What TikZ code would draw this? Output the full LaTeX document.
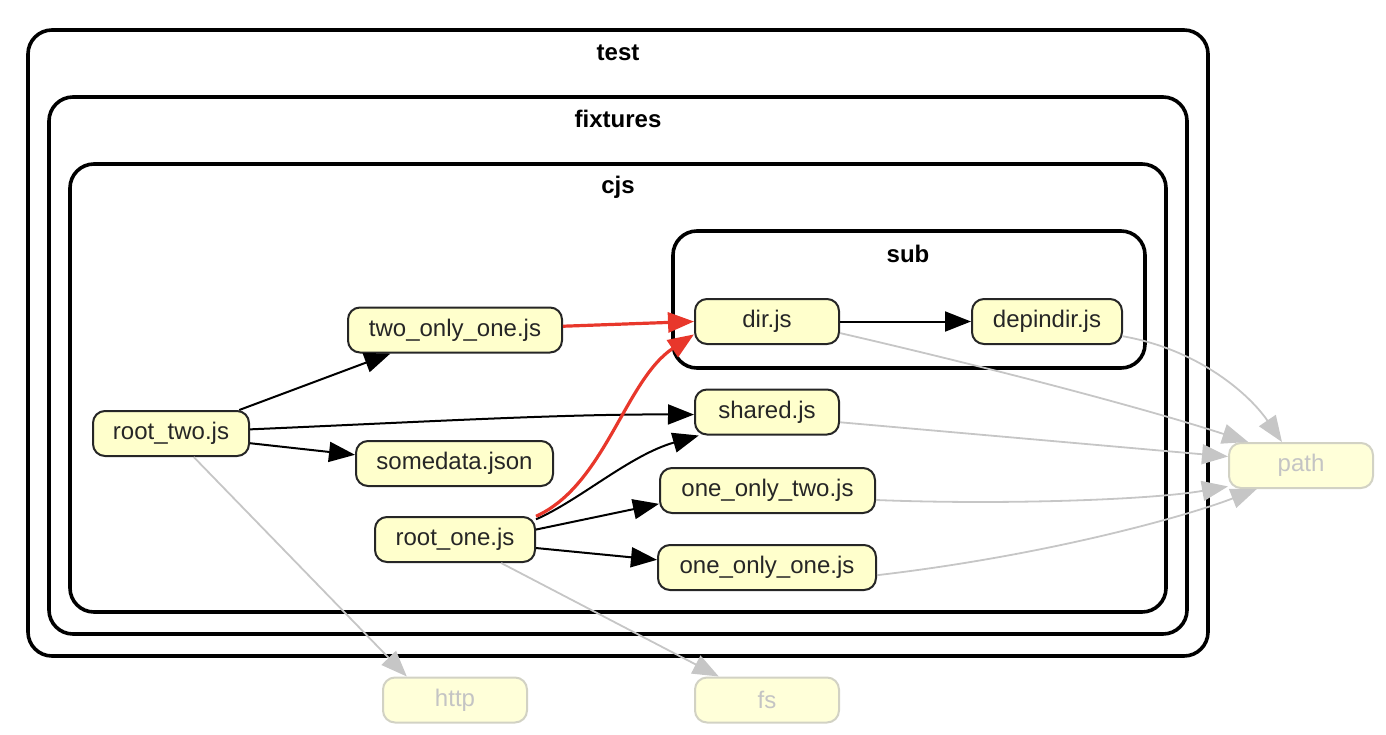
\documentclass[tikz,border=0pt]{standalone}
\usepackage{fontspec}
\setmainfont{Liberation Sans}
\usetikzlibrary{arrows.meta}
\definecolor{modfill}{HTML}{FFFFCC}
\definecolor{extfill}{HTML}{FFFFD9}
\definecolor{extline}{HTML}{D2D2C4}
\definecolor{exttext}{HTML}{C4C4C4}
\definecolor{hotred}{HTML}{E8372B}
\definecolor{fadeline}{HTML}{C6C6C6}
\tikzset{
  mod/.style={draw=black!85, line width=1pt, fill=modfill, rounded corners=6pt,
    minimum height=22.5pt, inner sep=0pt, text=black!85,
    font=\fontsize{12}{14}\selectfont},
  ext/.style={mod, draw=extline, fill=extfill, text=exttext},
  cluster/.style={draw=black, line width=1.8pt, rounded corners=12pt},
  clabel/.style={font=\bfseries\fontsize{12}{14}\selectfont, inner sep=0pt},
  dep/.style={-{Triangle[length=13pt,width=10pt]}, line width=1pt, draw=black},
  hot/.style={dep, draw=hotred, line width=1.6pt},
  faint/.style={dep, draw=fadeline, line width=0.9pt},
}
\begin{document}
\begin{tikzpicture}[x=0.5pt,y=-0.5pt]
\useasboundingbox (0,0) rectangle (1386,734);
% folder clusters
\draw[cluster] (28,30) rectangle (1208,656);
\draw[cluster] (49,97) rectangle (1187,634);
\draw[cluster] (70,164) rectangle (1166,612);
\draw[cluster] (673,231) rectangle (1145,368);
\node[clabel] (ltest) at (618,53) {test};
\node[clabel] (lfix) at (618,119) {fixtures};
\node[clabel] (lcjs) at (618,187) {cjs};
\node[clabel] (lsub) at (908,254) {sub};
% modules
\node[mod, minimum width=107pt] (two) at (455,330) {two\_only\_one.js};
\node[mod, minimum width=72pt] (dir) at (767,321.5) {dir.js};
\node[mod, minimum width=75pt] (dep) at (1047,321.5) {depindir.js};
\node[mod, minimum width=72pt] (shared) at (767,412) {shared.js};
\node[mod, minimum width=78pt] (rtwo) at (171,433.5) {root\_two.js};
\node[mod, minimum width=98.5pt] (some) at (454.5,463.5) {somedata.json};
\node[mod, minimum width=107.5pt] (oot) at (767.5,490.5) {one\_only\_two.js};
\node[mod, minimum width=80pt] (rone) at (455,539.5) {root\_one.js};
\node[mod, minimum width=109pt] (ooo) at (767,567.5) {one\_only\_one.js};
% external modules
\node[ext, minimum width=72pt] (path) at (1301,465.5) {path};
\node[ext, minimum width=72pt] (http) at (455,700) {http};
\node[ext, minimum width=72pt] (fs) at (767,700) {fs};
% dependencies
\draw[dep] (rtwo.19) -- (two.200);
\draw[dep] (rtwo.3) .. controls (420,422) and (560,414) .. (shared.182);
\draw[dep] (rtwo.-7) -- (some.175);
\draw[dep] (rone.14) .. controls (580,500) and (630,455) .. (shared.199);
\draw[dep] (rone.7) -- (oot.187);
\draw[dep] (rone.-6) -- (ooo.176);
\draw[dep] (dir.east) -- (dep.west);
\draw[hot] (two.2) -- (dir.180);
\draw[hot] (rone.16) .. controls (605,485) and (625,380) .. (dir.190);
\draw[faint] (rtwo.-46) -- (http.154);
\draw[faint] (rone.-27) -- (fs.154);
\draw[faint] (dir.-9) .. controls (1000,370) and (1150,410) .. (path.156);
\draw[faint] (dep.-11) .. controls (1200,350) and (1250,395) .. (path.129);
\draw[faint] (shared.-8) -- (path.173);
\draw[faint] (oot.-5) .. controls (1000,505) and (1150,500) .. (path.196);
\draw[faint] (ooo.-4) .. controls (1050,555) and (1190,515) .. (path.208);
\end{tikzpicture}
\end{document}
